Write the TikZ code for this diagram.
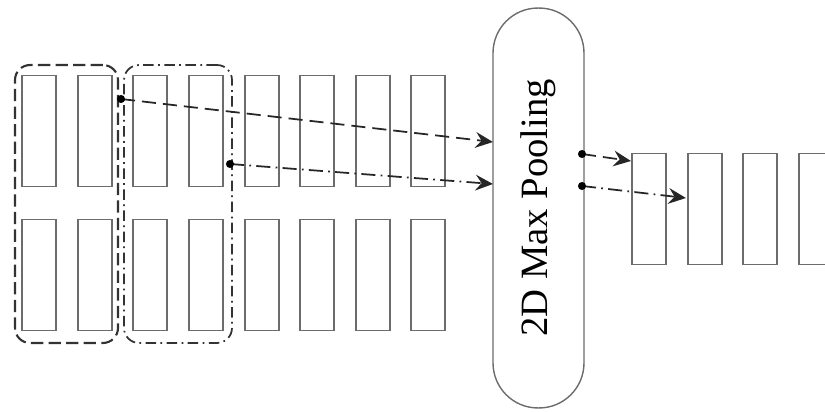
\documentclass[tikz,border=0pt]{standalone}
\usepackage{fontspec}
\setmainfont{Liberation Serif}
\usetikzlibrary{arrows.meta}
\tikzset{
  bar/.style={draw=gray!85!black, line width=0.8pt, fill=white, minimum width=0.68cm, minimum height=2.22cm, inner sep=0pt},
  grpdash/.style={draw=black!80, line width=1.2pt, dash pattern=on 7pt off 3pt, rounded corners=0.3cm, minimum width=2.06cm, minimum height=5.56cm, inner sep=0pt},
  grpdot/.style={draw=black!80, line width=1pt, dash pattern=on 6pt off 2.5pt on 1pt off 2.5pt, rounded corners=0.3cm, minimum width=2.16cm, minimum height=5.56cm, inner sep=0pt},
  pool/.style={draw=gray!85!black, line width=0.8pt, rounded corners=0.9cm, minimum width=1.82cm, minimum height=8cm, inner sep=0pt},
  tip/.style={-{Stealth[length=10pt,width=9pt,inset=3.5pt]}, draw=black!85, line width=1pt},
  dashline/.style={tip, dash pattern=on 8pt off 4pt},
  dotline/.style={tip, dash pattern=on 8pt off 3pt on 1pt off 3pt},
  joint/.style={fill=black}
}
\begin{document}
\begin{tikzpicture}[x=0.02cm,y=-0.02cm]
\useasboundingbox (0,0) rectangle (825,412);
% grouping windows
\node[grpdash] (g1) at (66.5,204) {};
\node[grpdot] (g2) at (178,204) {};
% input feature maps, upper row
\node[bar] (a1) at (39,131) {};
\node[bar] (a2) at (95,131) {};
\node[bar] (a3) at (150,131) {};
\node[bar] (a4) at (206,131) {};
\node[bar] (a5) at (262,131) {};
\node[bar] (a6) at (317,131) {};
\node[bar] (a7) at (373,131) {};
\node[bar] (a8) at (428,131) {};
% input feature maps, lower row
\node[bar] (b1) at (39,275) {};
\node[bar] (b2) at (95,275) {};
\node[bar] (b3) at (150,275) {};
\node[bar] (b4) at (206,275) {};
\node[bar] (b5) at (262,275) {};
\node[bar] (b6) at (317,275) {};
\node[bar] (b7) at (373,275) {};
\node[bar] (b8) at (428,275) {};
% pooling layer
\node[pool] (pool) at (538.5,208) {};
\node[rotate=90, font=\fontsize{22}{26}\selectfont] (lbl) at (pool.center) {2D Max Pooling};
% pooled outputs
\node[bar] (o1) at (649,209) {};
\node[bar] (o2) at (705,209) {};
\node[bar] (o3) at (760,209) {};
\node[bar] (o4) at (816,209) {};
% joints and arrow ends
\coordinate (d1) at (121,99);
\coordinate (d2) at (230,164);
\coordinate (e1) at (582,154);
\coordinate (e2) at (582,186);
\coordinate (t1) at (493,142);
\coordinate (t2) at (493,184);
\coordinate (t3) at (631,161);
\coordinate (t4) at (686,198);
\draw[dashline] (d1) -- (t1);
\draw[dotline] (d2) -- (t2);
\draw[dashline] (e1) -- (t3);
\draw[dotline] (e2) -- (t4);
\fill[joint] (d1) circle (2.3pt);
\fill[joint] (d2) circle (2.3pt);
\fill[joint] (e1) circle (2.3pt);
\fill[joint] (e2) circle (2.3pt);
\end{tikzpicture}
\end{document}
